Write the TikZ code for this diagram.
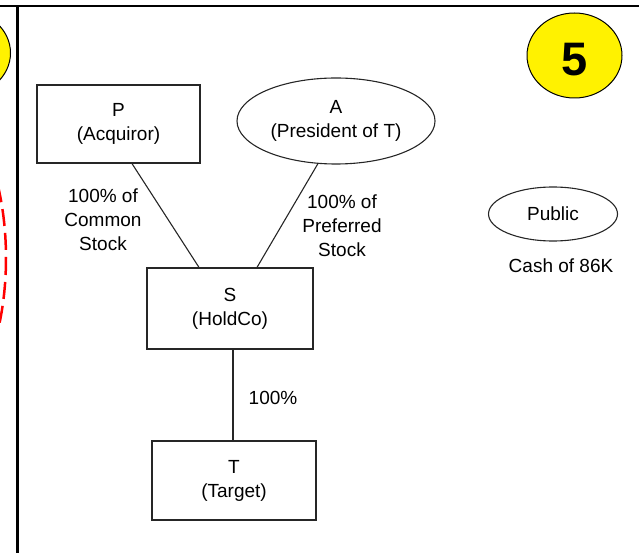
\documentclass[tikz,border=0pt]{standalone}
\usepackage{fontspec}
\setmainfont{Liberation Sans}
\usetikzlibrary{shapes.geometric,calc}
\begin{document}
\begin{tikzpicture}[x=1pt,y=-1pt,
  lbl/.style={font=\fontsize{19}{24}\selectfont, align=center, inner sep=0pt},
  entbox/.style={draw=black!85, line width=1.2pt, rectangle, minimum width=#1, inner sep=0pt, align=center, font=\fontsize{19}{24}\selectfont},
  entell/.style={draw=black!85, line width=1.1pt, ellipse, inner sep=0pt, align=center, font=\fontsize{19}{24}\selectfont},
  conn/.style={draw=black!85, line width=1.1pt},
  badge/.style={draw=black, line width=1pt, fill=yellow, ellipse, minimum width=95pt, minimum height=85pt, inner sep=0pt},
  rule/.style={line width=2.5pt, draw=black}
]
\useasboundingbox (0,0) rectangle (639,553);
\clip (0,0) rectangle (639,553);
% frame rules
\coordinate (tl) at (0,6);
\coordinate (tr) at (639,6);
\coordinate (vt) at (17.5,6);
\coordinate (vb) at (17.5,553);
\draw[rule] (tl) -- (tr);
\draw[rule] (vt) -- (vb);
% left fragments
\node[badge] (leftbadge) at (-37,53) {};
\draw[red, line width=2.5pt, dash pattern=on 17pt off 7pt] (-74,258) ellipse [x radius=80, y radius=165];
% badge 5
\node[badge] (badge5) at (574.5,55.5) {};
\node[font=\bfseries\fontsize{47}{47}\selectfont, inner sep=0pt] (five) at (575,60) {5};
% entities
\node[entbox=163pt, minimum height=78pt] (P) at (118.5,124) {P\\(Acquiror)};
\node[entell, minimum width=198pt, minimum height=86pt] (A) at (336,121) {A\\(President of T)};
\node[entbox=166pt, minimum height=81pt] (S) at (230,308.5) {S\\(HoldCo)};
\node[entbox=164pt, minimum height=79pt] (T) at (234,480.5) {T\\(Target)};
\node[entell, minimum width=129pt, minimum height=54pt] (Pub) at (553,214) {Public};
\node[lbl] (cash) at (561,266) {Cash of 86K};
% connectors
\draw[conn] ([xshift=13.5pt]P.south) -- ([xshift=-31pt]S.north);
\draw[conn] (A.247) -- ([xshift=27pt]S.north);
\draw[conn] ([xshift=3pt]S.south) -- ([xshift=-1pt]T.north);
% labels
\node[lbl] (lc) at (103,220) {100\% of\\Common\\Stock};
\node[lbl] (lp) at (342,226) {100\% of\\Preferred\\Stock};
\node[lbl] (l100) at (273,398) {100\%};
\end{tikzpicture}
\end{document}
